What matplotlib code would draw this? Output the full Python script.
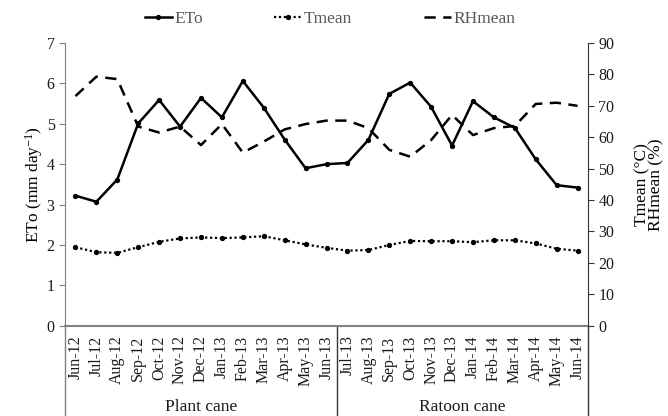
"""ETo, Tmean and RHmean over plant and ratoon cane seasons."""

import matplotlib
matplotlib.use("Agg")
import matplotlib.pyplot as plt
from matplotlib.transforms import blended_transform_factory

plt.rcParams["font.family"] = ["Liberation Serif", "DejaVu Serif"]
plt.rcParams["mathtext.fontset"] = "custom"
plt.rcParams["mathtext.rm"] = "Liberation Serif"
plt.rcParams["mathtext.default"] = "regular"

months = [
    "Jun-12", "Jul-12", "Aug-12", "Sep-12", "Oct-12", "Nov-12", "Dec-12",
    "Jan-13", "Feb-13", "Mar-13", "Apr-13", "May-13", "Jun-13",
    "Jul-13", "Aug-13", "Sep-13", "Oct-13", "Nov-13", "Dec-13",
    "Jan-14", "Feb-14", "Mar-14", "Apr-14", "May-14", "Jun-14",
]
eto = [3.22, 3.07, 3.62, 5.01, 5.59, 4.93, 5.64, 5.16, 6.06, 5.40, 4.61, 3.90, 4.00,
       4.03, 4.60, 5.74, 6.02, 5.42, 4.46, 5.56, 5.16, 4.90, 4.12, 3.48, 3.42]
tmean = [25.0, 23.4, 23.2, 25.0, 26.7, 27.8, 28.1, 27.9, 28.1, 28.5, 27.2, 25.9, 24.8,
         23.9, 24.1, 25.7, 27.0, 26.9, 26.9, 26.6, 27.2, 27.2, 26.2, 24.5, 23.9]
rhmean = [73.1, 79.3, 78.5, 63.4, 61.5, 63.4, 57.5, 64.2, 55.1, 58.6, 62.5, 64.2, 65.3,
          65.3, 62.9, 56.0, 53.8, 59.1, 67.1, 60.7, 62.9, 63.6, 70.6, 71.0, 70.0]
groups = ["Plant cane", "Ratoon cane"]
group_sizes = [13, 12]

x = list(range(len(months)))

fig = plt.figure(figsize=(6.68, 4.16), dpi=100)
ax = fig.add_axes([0.0973, 0.217, 0.7830, 0.6796])
ax2 = ax.twinx()

l1, = ax.plot(x, eto, color="black", lw=1.8, marker="o", ms=2.8, label="ETo")
l2, = ax2.plot(x, tmean, color="black", lw=1.6, ls=(0, (1, 1.2)), marker="o", ms=2.8,
               label="Tmean")
l3, = ax2.plot(x, rhmean, color="black", lw=1.8, ls=(0, (4.5, 3)), label="RHmean")

ax.set_xlim(-0.5, len(months) - 0.5)
ax.set_ylim(0, 7)
ax2.set_ylim(0, 90)
ax.set_yticks(range(0, 8))
ax2.set_yticks(range(0, 91, 10))
ax.set_xticks(x)
ax.set_xticklabels(months, rotation=90, fontsize=11.5, color="#1a1a1a")
ax.tick_params(axis="x", length=0, pad=7)
ax.tick_params(axis="y", labelsize=11.5, colors="#1a1a1a", length=4, color="#808080")
ax2.tick_params(axis="y", labelsize=11.5, colors="#1a1a1a", length=4, color="#333333")

for a in (ax, ax2):
    a.spines["top"].set_visible(False)
ax.spines["left"].set_color("#808080")
ax.spines["bottom"].set_color("#808080")
ax.spines["bottom"].set_linewidth(1.5)
ax2.spines["left"].set_visible(False)
ax2.spines["bottom"].set_visible(False)
ax2.spines["right"].set_color("#333333")
ax.spines["right"].set_visible(False)

ax.set_ylabel("ETo (mm day$^{-1}$)", fontsize=12.5, labelpad=1)
ax2.set_ylabel("Tmean (°C)\nRHmean (%)", fontsize=12.5, labelpad=14, linespacing=0.85)

# group dividers and labels below the month labels
trans = blended_transform_factory(ax.transData, ax.transAxes)
bottom = -0.32
edges = [-0.5]
for n in group_sizes:
    edges.append(edges[-1] + n)
for i, e in enumerate(edges):
    col = "#808080" if i == 0 else "#333333"
    ax.plot([e, e], [0, bottom], transform=trans, color=col, lw=1.0, clip_on=False)
for g, lo, hi in zip(groups, edges[:-1], edges[1:]):
    ax.text((lo + hi) / 2, -0.288, g, transform=trans, ha="center", va="center",
            fontsize=12.5, color="#1a1a1a")

fig.legend(handles=[l1, l2, l3], loc="upper center", bbox_to_anchor=(0.494, 1.012),
           ncol=3, frameon=False, fontsize=12.5, handlelength=1.6, handletextpad=0.12,
           columnspacing=4.1, labelcolor="#595959")

fig.savefig("out.png", dpi=100)
